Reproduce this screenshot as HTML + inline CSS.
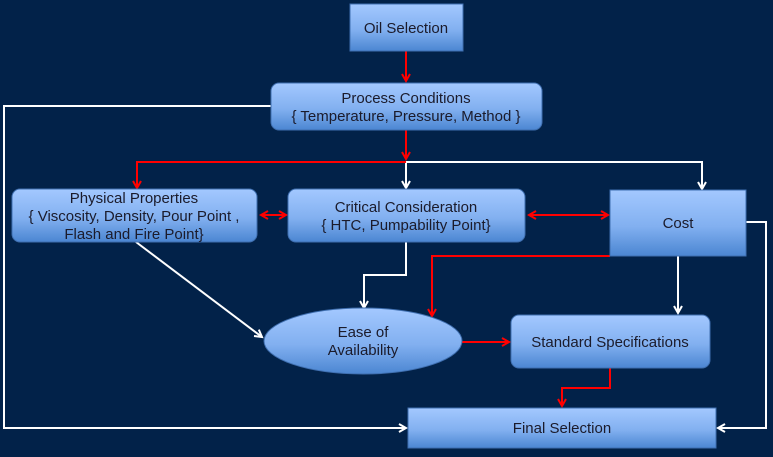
<!DOCTYPE html>
<html><head><meta charset="utf-8"><style>
html,body{margin:0;padding:0;background:#022249;}
svg{display:block;}
text{font-family:"Liberation Sans",sans-serif;font-size:15px;fill:#1b1b2b;text-anchor:middle;}
</style></head><body>
<svg width="773" height="457" viewBox="0 0 773 457" xmlns="http://www.w3.org/2000/svg">
<defs>
<linearGradient id="g" x1="0" y1="0" x2="0" y2="1">
<stop offset="0" stop-color="#a3c8ff"/><stop offset="0.55" stop-color="#82b0f0"/><stop offset="1" stop-color="#4b86d2"/>
</linearGradient>
<marker id="wr" markerWidth="10" markerHeight="10" refX="8" refY="5" orient="auto" markerUnits="userSpaceOnUse"><path d="M1,1 L8,5 L1,9" fill="none" stroke="#fff" stroke-width="2"/></marker>
<marker id="rr" markerWidth="10" markerHeight="10" refX="8" refY="5" orient="auto" markerUnits="userSpaceOnUse"><path d="M1,1 L8,5 L1,9" fill="none" stroke="#f00" stroke-width="2"/></marker>
<marker id="rs" markerWidth="10" markerHeight="10" refX="2" refY="5" orient="auto" markerUnits="userSpaceOnUse"><path d="M9,1 L2,5 L9,9" fill="none" stroke="#f00" stroke-width="2"/></marker>
</defs>
<rect width="773" height="457" fill="#022249"/>
<g fill="none" stroke="#fff" stroke-width="2">
<path d="M271,106 H4 V428 H406" marker-end="url(#wr)"/>
<path d="M406,162 H702 V189" marker-end="url(#wr)"/>
<path d="M406,162 V188" marker-end="url(#wr)"/>
<path d="M746,222 H766 V428 H718" marker-end="url(#wr)"/>
<path d="M678,256 V313" marker-end="url(#wr)"/>
<path d="M406,242 V275 H364 V308" marker-end="url(#wr)"/>
<path d="M136,242 L262,337" marker-end="url(#wr)"/>
</g>
<g fill="none" stroke="#f00" stroke-width="2">
<path d="M406,51 V81" marker-end="url(#rr)"/>
<path d="M406,130 V159" marker-end="url(#rr)"/>
<path d="M406,162 H137 V188" marker-end="url(#rr)"/>
<path d="M261,215 H286" marker-start="url(#rs)" marker-end="url(#rr)"/>
<path d="M529,215 H608" marker-start="url(#rs)" marker-end="url(#rr)"/>
<path d="M610,256 H432 V316" marker-end="url(#rr)"/>
<path d="M462,342 H509" marker-end="url(#rr)"/>
<path d="M610,368 V388 H562 V406" marker-end="url(#rr)"/>
</g>
<g stroke="#3f6fb0" stroke-width="1" fill="url(#g)">
<rect x="350" y="4" width="113" height="47"/>
<rect x="271" y="83" width="271" height="47" rx="8"/>
<rect x="12" y="189" width="245" height="53" rx="8"/>
<rect x="288" y="189" width="237" height="53" rx="8"/>
<rect x="610" y="190" width="136" height="66"/>
<ellipse cx="363" cy="341" rx="99" ry="33"/>
<rect x="511" y="315" width="199" height="53" rx="8"/>
<rect x="408" y="408" width="308" height="40"/>
</g>
<text x="406" y="33">Oil Selection</text>
<text x="406" y="103">Process Conditions</text>
<text x="406" y="121">{ Temperature, Pressure, Method }</text>
<text x="134" y="203">Physical Properties</text>
<text x="134" y="221">{ Viscosity, Density, Pour Point ,</text>
<text x="134" y="239">Flash and Fire Point}</text>
<text x="406" y="212">Critical Consideration</text>
<text x="406" y="230">{ HTC, Pumpability Point}</text>
<text x="678" y="228">Cost</text>
<text x="363" y="337">Ease of</text>
<text x="363" y="355">Availability</text>
<text x="610" y="347">Standard Specifications</text>
<text x="562" y="433">Final Selection</text>
</svg>
</body></html>
